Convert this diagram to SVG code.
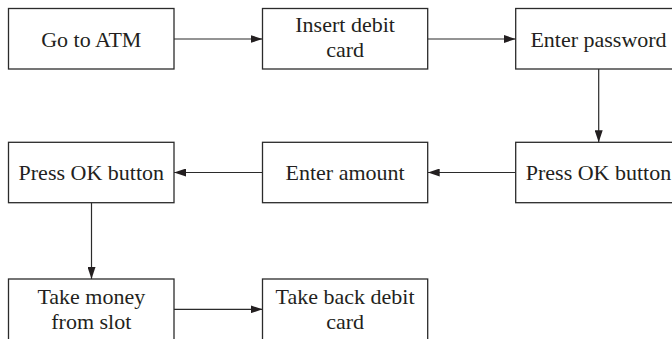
<svg xmlns="http://www.w3.org/2000/svg" width="672" height="339" viewBox="0 0 672 339">
  <style>
    .box { fill: #ffffff; stroke: #2b2b2b; stroke-width: 1.3; }
    .lbl { font-family: "Liberation Serif", "Times New Roman", serif; font-size: 22px; fill: #231f20; text-anchor: middle; }
    .conn { stroke: #2b2b2b; stroke-width: 1.2; fill: none; marker-end: url(#arrow); }
  </style>
  <defs>
    <marker id="arrow" viewBox="0 0 12 8" refX="12" refY="4" markerWidth="12" markerHeight="8" markerUnits="userSpaceOnUse" orient="auto">
      <path d="M0,0 L12,4 L0,8 Z" fill="#231f20"/>
    </marker>
  </defs>
  <rect width="672" height="339" fill="#ffffff"/>

  <g id="connectors">
    <line class="conn" x1="174" y1="39" x2="262.5" y2="39"/>
    <line class="conn" x1="427.7" y1="39" x2="515.7" y2="39"/>
    <line class="conn" x1="598.7" y1="69" x2="598.7" y2="142.3"/>
    <line class="conn" x1="515.7" y1="172.5" x2="427.7" y2="172.5"/>
    <line class="conn" x1="262.5" y1="172.5" x2="174" y2="172.5"/>
    <line class="conn" x1="91.5" y1="202.7" x2="91.5" y2="279"/>
    <line class="conn" x1="174" y1="309.3" x2="262.5" y2="309.3"/>
  </g>

  <g id="go-to-atm">
    <rect class="box" x="8.5" y="8.5" width="165.5" height="60.5"/>
    <text class="lbl" x="91.3" y="46.5">Go to ATM</text>
  </g>
  <g id="insert-card">
    <rect class="box" x="262.5" y="8.5" width="165.2" height="60.5"/>
    <text class="lbl" x="345.1" y="32.3">Insert debit</text>
    <text class="lbl" x="345.1" y="57.3">card</text>
  </g>
  <g id="enter-password">
    <rect class="box" x="515.7" y="8.5" width="165.5" height="60.5"/>
    <text class="lbl" x="598.5" y="46.5">Enter password</text>
  </g>

  <g id="press-ok-1">
    <rect class="box" x="515.7" y="142.3" width="165.5" height="60.4"/>
    <text class="lbl" x="598.5" y="180.3">Press OK button</text>
  </g>
  <g id="enter-amount">
    <rect class="box" x="262.5" y="142.3" width="165.2" height="60.4"/>
    <text class="lbl" x="345.1" y="180.3">Enter amount</text>
  </g>
  <g id="press-ok-2">
    <rect class="box" x="8.5" y="142.3" width="165.5" height="60.4"/>
    <text class="lbl" x="91.3" y="180.3">Press OK button</text>
  </g>

  <g id="take-money">
    <rect class="box" x="8.5" y="279" width="165.5" height="70"/>
    <text class="lbl" x="91.3" y="304">Take money</text>
    <text class="lbl" x="91.3" y="329">from slot</text>
  </g>
  <g id="take-card">
    <rect class="box" x="262.5" y="279" width="165.2" height="70"/>
    <text class="lbl" x="345.1" y="304">Take back debit</text>
    <text class="lbl" x="345.1" y="329">card</text>
  </g>
</svg>
